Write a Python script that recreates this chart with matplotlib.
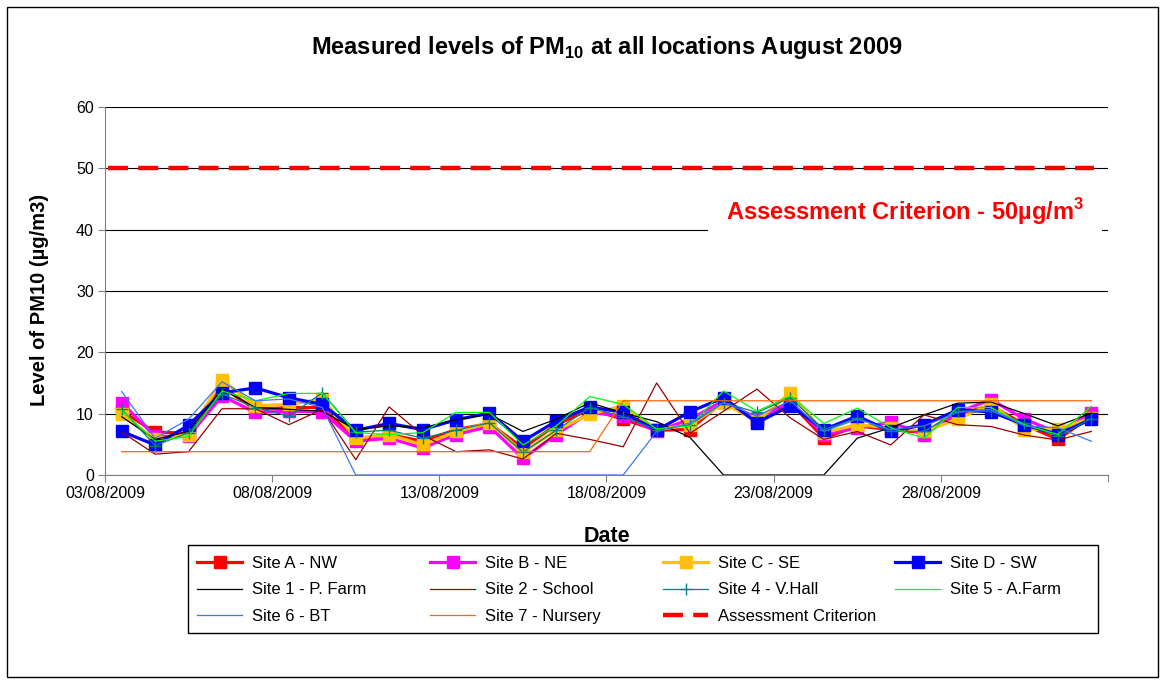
import matplotlib
matplotlib.use('Agg')
import matplotlib.pyplot as plt
from matplotlib.patches import Rectangle

plt.rcParams['font.family'] = ['Liberation Sans', 'DejaVu Sans']
plt.rcParams['mathtext.fontset'] = 'custom'
plt.rcParams['mathtext.rm'] = 'Liberation Sans'
plt.rcParams['mathtext.bf'] = 'Liberation Sans:bold'

# Daily PM10 readings, 03/08/2009 to 01/09/2009 (one value per day)
dias = ['03/08', '04/08', '05/08', '06/08', '07/08', '08/08', '09/08', '10/08', '11/08', '12/08',
        '13/08', '14/08', '15/08', '16/08', '17/08', '18/08', '19/08', '20/08', '21/08', '22/08',
        '23/08', '24/08', '25/08', '26/08', '27/08', '28/08', '29/08', '30/08', '31/08', '01/09']

site_a = [10.4, 7.0, 6.8, 14.3, 10.7, 11.0, 11.0, 5.8, 6.6, 5.5, 7.4, 8.4, 4.4, 8.2, 10.7,
          9.1, 7.3, 7.4, 12.1, 9.1, 11.8, 6.0, 8.0, 7.4, 6.9, 9.9, 11.3, 8.2, 5.8, 9.6]
site_b = [11.8, 6.3, 6.3, 12.9, 10.2, 10.4, 10.3, 5.5, 6.0, 4.4, 6.6, 7.9, 2.7, 6.6, 10.2,
          9.6, 7.1, 9.1, 12.1, 9.1, 11.9, 6.6, 7.7, 8.6, 6.6, 10.2, 12.3, 9.1, 6.9, 10.1]
site_c = [9.9, 5.8, 6.6, 15.5, 11.3, 11.5, 12.4, 6.0, 6.6, 4.9, 7.1, 8.5, 3.7, 7.3, 9.9,
          11.3, 7.4, 8.2, 11.7, 8.8, 13.4, 6.9, 8.2, 7.7, 7.1, 9.1, 11.6, 7.4, 7.5, 9.3]
site_d = [7.1, 4.9, 8.1, 13.4, 14.2, 12.6, 11.5, 7.3, 8.4, 7.4, 9.0, 10.1, 5.5, 8.8, 11.1,
          10.2, 7.3, 10.3, 12.6, 8.5, 11.3, 7.4, 9.6, 7.1, 8.2, 10.6, 10.3, 8.2, 6.6, 9.1]
site_1 = [9.5, 5.8, 7.1, 14.0, 11.0, 10.7, 10.4, 7.4, 8.0, 7.7, 9.0, 9.9, 7.1, 9.1, 11.8,
          10.1, 8.7, 6.1, 0, 0, 0, 0, 6.0, 7.7, 9.8, 11.7, 11.9, 10.0, 8.0, 10.1]
site_2 = [7.0, 3.4, 3.8, 10.8, 10.8, 8.2, 10.7, 2.5, 11.1, 6.5, 3.8, 4.1, 2.6, 6.8, 5.8,
          4.6, 15.0, 6.8, 10.4, 14.0, 9.3, 5.8, 7.1, 4.9, 9.8, 8.2, 7.9, 6.5, 5.7, 7.1]
site_4 = [10.7, 4.8, 6.9, 13.2, 11.0, 9.6, 13.4, 7.0, 7.3, 6.0, 7.3, 8.5, 3.7, 7.3, 11.0,
          9.5, 7.4, 8.2, 11.8, 10.2, 12.6, 7.4, 9.3, 7.1, 7.1, 10.4, 10.4, 8.4, 6.3, 9.2]
site_5 = [10.5, 5.5, 6.3, 13.7, 12.1, 13.3, 13.3, 6.9, 6.6, 6.9, 10.2, 10.2, 4.9, 8.0, 12.8,
          11.5, 7.5, 8.0, 13.7, 10.4, 12.9, 8.4, 10.9, 7.7, 6.0, 11.0, 11.0, 8.2, 6.6, 11.2]
site_6 = [13.6, 6.0, 9.1, 15.2, 12.1, 12.4, 11.0, 0, 0, 0, 0, 0, 0, 0, 0,
          0, 7.1, 8.5, 11.8, 9.6, 12.1, 7.1, 9.1, 7.4, 8.0, 10.2, 10.7, 8.0, 7.7, 5.5]
site_7 = [3.8, 3.8, 3.8, 3.8, 3.8, 3.8, 3.8, 3.8, 3.8, 3.8, 3.8, 3.8, 3.8, 3.8, 3.8,
          12.1, 12.1, 12.1, 12.1, 12.1, 12.1, 12.1, 12.1, 12.1, 12.1, 12.1, 12.1, 12.1, 12.1, 12.1]
criterio = 50

rotulos_x = ['03/08/2009', '08/08/2009', '13/08/2009', '18/08/2009', '23/08/2009', '28/08/2009', '']
rotulos_y = [0, 10, 20, 30, 40, 50, 60]

x = list(range(len(dias)))

fig = plt.figure(figsize=(11.65, 6.8), dpi=100)
ax = fig.add_axes([0.0901, 0.3015, 0.8610, 0.5411])

# Excel style: grossas com quadrado primeiro, finas por cima
h_a, = ax.plot(x, site_a, color='#FF0000', lw=2.3, marker='s', ms=8.5, label='Site A - NW')
h_b, = ax.plot(x, site_b, color='#FF00FF', lw=2.3, marker='s', ms=8.5, label='Site B - NE')
h_c, = ax.plot(x, site_c, color='#FFC000', lw=2.3, marker='s', ms=8.5, label='Site C - SE')
h_d, = ax.plot(x, site_d, color='#0000FF', lw=2.3, marker='s', ms=8.5, label='Site D - SW')
h_1, = ax.plot(x, site_1, color='black', lw=0.9, label='Site 1 - P. Farm')
h_2, = ax.plot(x, site_2, color='#990000', lw=0.9, label='Site 2 - School')
h_4, = ax.plot(x, site_4, color='#008080', lw=0.9, marker='+', ms=8, mew=1.0, label='Site 4 - V.Hall')
h_5, = ax.plot(x, site_5, color='#00FF00', lw=0.9, label='Site 5 - A.Farm')
h_6, = ax.plot(x, site_6, color='#3F76F2', lw=0.9, label='Site 6 - BT')
h_7, = ax.plot(x, site_7, color='#FF6600', lw=0.9, label='Site 7 - Nursery')
h_ac = ax.axhline(criterio, xmin=0.003, xmax=0.986, color='#FF0000', lw=3.2,
                  dashes=(4.5, 2.3), label='Assessment Criterion')

ax.set_xlim(-0.5, len(dias) - 0.5)
ax.set_ylim(0, 60)
ax.set_xticks([-0.5 + 5 * k for k in range(len(rotulos_x))])
ax.set_xticklabels(rotulos_x)
ax.set_yticks(rotulos_y)
ax.tick_params(direction='out', length=5, color='#808080', labelsize=11.5, pad=3)

for s in ['top', 'right']:
    ax.spines[s].set_visible(False)
for s in ['left', 'bottom']:
    ax.spines[s].set_color('#808080')
ax.yaxis.grid(True, color='black', lw=0.8)
ax.set_axisbelow(True)

ax.set_title(r'Measured levels of PM$_{\mathbf{10}}$ at all locations August 2009',
             fontsize=17, fontweight='bold', pad=38)
ax.set_ylabel('Level of PM10 (µg/m3)', fontsize=14.5, fontweight='bold')
ax.yaxis.set_label_coords(-0.056, 0.4755)
ax.set_xlabel('Date', fontsize=15.5, fontweight='bold')
ax.xaxis.set_label_coords(0.5, -0.138)

ax.text(0.798, 0.7147, r'Assessment Criterion - 50µg/m$^{\mathbf{3}}$', transform=ax.transAxes,
        color='#FF0000', fontsize=17, fontweight='bold', ha='center', va='center',
        bbox=dict(facecolor='white', edgecolor='none', pad=13))

# legenda: uma por coluna para deixar as colunas com largura igual (como no Excel)
colunas = [[h_a, h_1, h_6], [h_b, h_2, h_7], [h_c, h_4, h_ac], [h_d, h_5]]
x_colunas = [197, 430, 663, 895]
for col, xc in zip(colunas, x_colunas):
    fig.legend(handles=col, labels=[h.get_label() for h in col],
               loc='upper left', bbox_to_anchor=(xc / 1165, 1 - 556 / 680),
               fontsize=12, frameon=False, handlelength=2.7, handletextpad=0.6,
               borderpad=0, borderaxespad=0, labelspacing=0.69)

# caixa da legenda
fig.patches.append(Rectangle((188 / 1165, 1 - 633 / 680), 910 / 1165, 88 / 680,
                             transform=fig.transFigure, fill=False, edgecolor='black', lw=1.0))

# moldura externa do grafico
fig.patches.append(Rectangle((0.006, 0.004), 0.988, 0.986, transform=fig.transFigure,
                             fill=False, edgecolor='black', lw=1.0))

fig.savefig('out.png', dpi=100)
